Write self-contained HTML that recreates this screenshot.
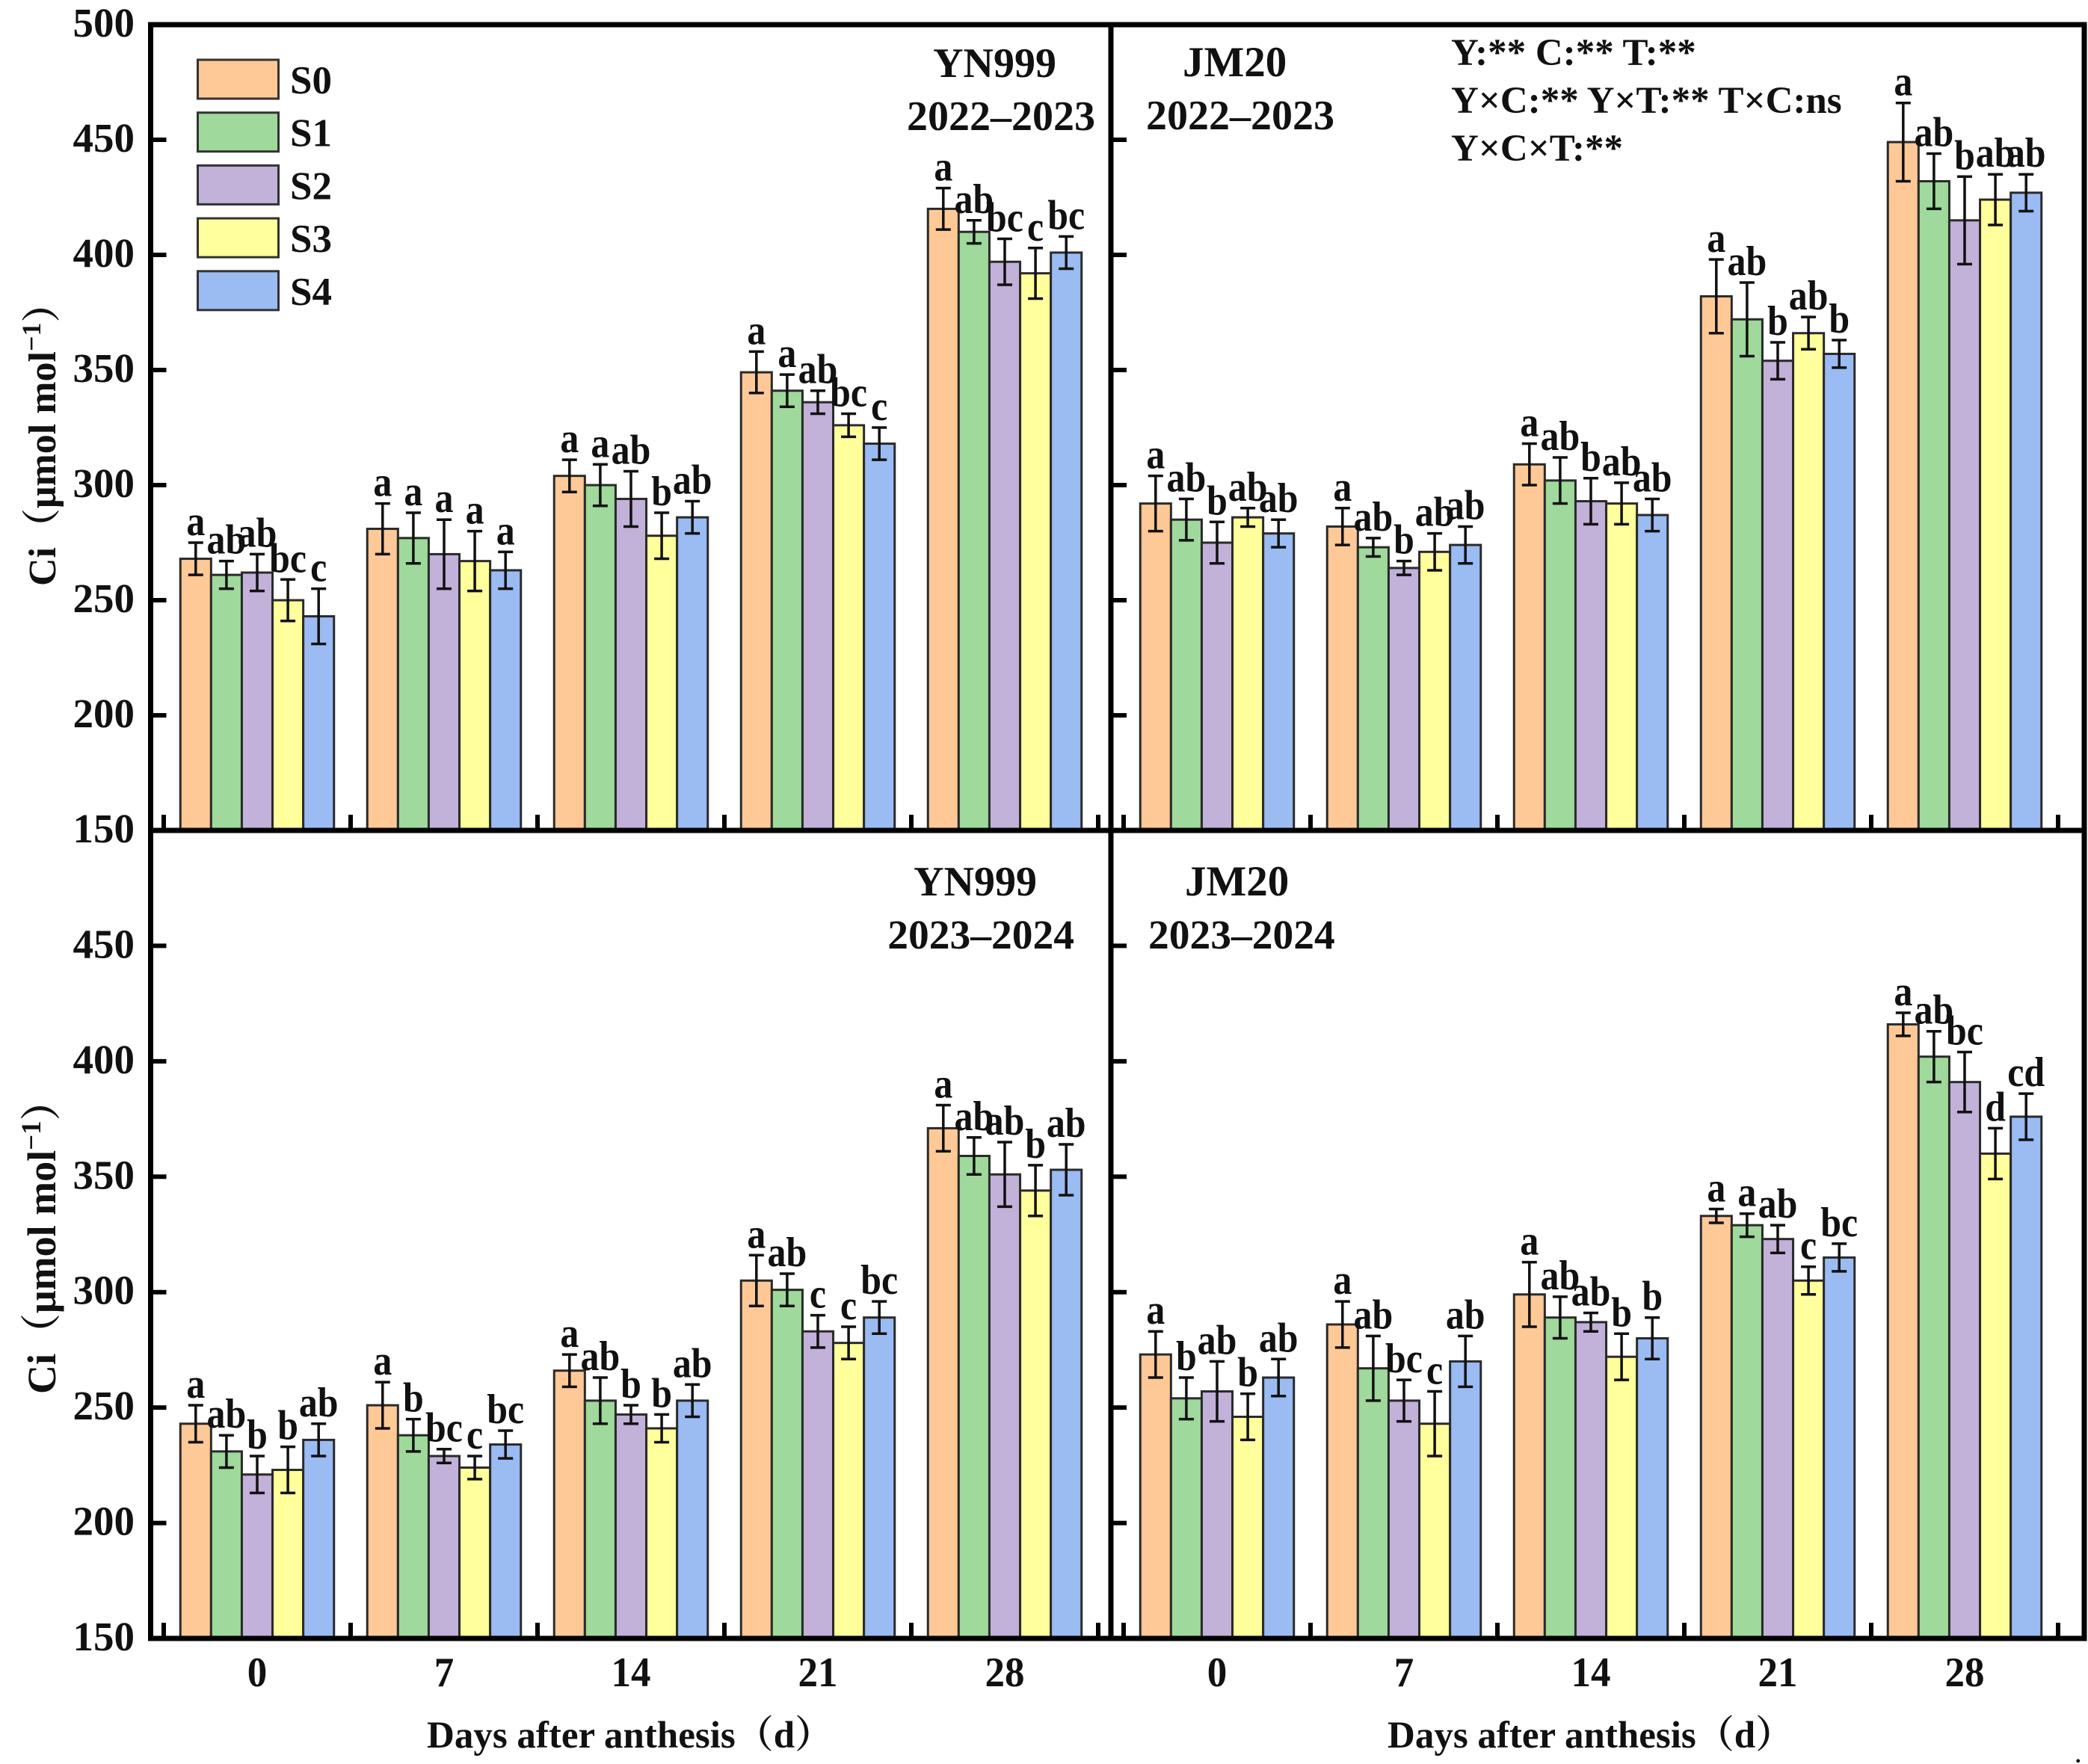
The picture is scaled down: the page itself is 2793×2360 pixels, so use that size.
<!DOCTYPE html>
<html lang="en">
<head>
<meta charset="utf-8">
<title>Ci by days after anthesis</title>
<style>
html,body{margin:0;padding:0;background:#fff;}
svg{display:block;}
text{font-family:"Liberation Serif","Noto Serif CJK SC",serif;font-weight:bold;fill:#111;}
</style>
</head>
<body>
<svg id="chart" xmlns="http://www.w3.org/2000/svg" width="2793" height="2360" viewBox="0 0 2793 2360">
  <rect x="0" y="0" width="2793" height="2360" fill="#fff"/>
  <g id="panels"></g>
  <g id="frame" fill="none" stroke="#000" stroke-width="7">
    <rect x="201.5" y="33" width="2586.5" height="2159"/>
    <line x1="1486" y1="33" x2="1486" y2="2192"/>
    <line x1="201.5" y1="1111" x2="2788" y2="1111"/>
  </g>
  <g id="yLabels"></g>
  <g id="xLabels"></g>
  <g id="legend"></g>

  <text x="1413" y="103" font-size="56" text-anchor="end">YN999</text>
  <text x="1465" y="174" font-size="56" text-anchor="end">2022–2023</text>
  <text x="1582" y="102" font-size="57">JM20</text>
  <text x="1533" y="173" font-size="56">2022–2023</text>
  <text x="1387" y="1198" font-size="56" text-anchor="end">YN999</text>
  <text x="1437" y="1269" font-size="55.5" text-anchor="end">2023–2024</text>
  <text x="1585" y="1198" font-size="57">JM20</text>
  <text x="1536" y="1269" font-size="55.5">2023–2024</text>

  <text x="1941" y="87" font-size="51">Y:** C:** T:**</text>
  <text x="1941" y="151" font-size="51">Y×C:** Y×T:** T×C:ns</text>
  <text x="1941" y="215" font-size="51">Y×C×T:**</text>

  <text transform="translate(74,784) rotate(-90)" font-size="52">Ci（μmol mol<tspan dy="-20" font-size="36">−1</tspan><tspan dy="20">）</tspan></text>
  <text transform="translate(74,1865) rotate(-90)" font-size="54">Ci（μmol mol<tspan dy="-20" font-size="37">−1</tspan><tspan dy="20">）</tspan></text>
  <text x="571" y="2338" font-size="51">Days after anthesis（d）</text>
  <text x="1856" y="2338" font-size="51">Days after anthesis（d）</text>
  <text x="2776" y="2358" font-size="30">.</text>
</svg>
<script>
// ---- chart data ----
const days = ["0", "7", "14", "21", "28"];
const seriesNames = ["S0", "S1", "S2", "S3", "S4"];
const seriesColors = ["#FFC997", "#9FD99B", "#C2B1D9", "#FFFF9B", "#9BBBF3"];
const yTickValues = [150, 200, 250, 300, 350, 400, 450, 500];
const upperTickLabels = ["500", "450", "400", "350", "300", "250", "200", "150"];
const lowerTickLabels = ["450", "400", "350", "300", "250", "200", "150"];

const yn2022Means = [
  [268, 261, 262, 250, 243],
  [281, 277, 270, 267, 263],
  [304, 300, 294, 278, 286],
  [349, 341, 336, 326, 318],
  [420, 410, 397, 392, 401]
];
const yn2022Errors = [
  [7, 6, 8, 9, 12],
  [11, 11, 15, 13, 8],
  [7, 9, 12, 10, 7],
  [9, 7, 5, 5, 7],
  [9, 5, 10, 11, 7]
];
const yn2022Letters = [
  ["a", "ab", "ab", "bc", "c"],
  ["a", "a", "a", "a", "a"],
  ["a", "a", "ab", "b", "ab"],
  ["a", "a", "ab", "bc", "c"],
  ["a", "ab", "bc", "c", "bc"]
];

const jm2022Means = [
  [292, 285, 275, 286, 279],
  [282, 273, 264, 271, 274],
  [309, 302, 293, 292, 287],
  [382, 372, 354, 366, 357],
  [449, 432, 415, 424, 427]
];
const jm2022Errors = [
  [12, 9, 9, 4, 6],
  [8, 4, 3, 8, 8],
  [9, 10, 10, 9, 7],
  [16, 16, 8, 7, 6],
  [17, 12, 19, 11, 8]
];
const jm2022Letters = [
  ["a", "ab", "b", "ab", "ab"],
  ["a", "ab", "b", "ab", "ab"],
  ["a", "ab", "b", "ab", "ab"],
  ["a", "ab", "b", "ab", "b"],
  ["a", "ab", "b", "ab", "ab"]
];

const yn2023Means = [
  [243, 231, 221, 223, 236],
  [251, 238, 229, 224, 234],
  [266, 253, 247, 241, 253],
  [305, 301, 283, 278, 289],
  [371, 359, 351, 344, 353]
];
const yn2023Errors = [
  [8, 7, 8, 10, 7],
  [10, 7, 3, 5, 6],
  [7, 10, 4, 6, 7],
  [11, 7, 7, 7, 7],
  [10, 8, 14, 11, 11]
];
const yn2023Letters = [
  ["a", "ab", "b", "b", "ab"],
  ["a", "b", "bc", "c", "bc"],
  ["a", "ab", "b", "b", "ab"],
  ["a", "ab", "c", "c", "bc"],
  ["a", "ab", "ab", "b", "ab"]
];

const jm2023Means = [
  [273, 254, 257, 246, 263],
  [286, 267, 253, 243, 270],
  [299, 289, 287, 272, 280],
  [333, 329, 323, 305, 315],
  [416, 402, 391, 360, 376]
];
const jm2023Errors = [
  [10, 9, 13, 10, 8],
  [10, 14, 9, 14, 11],
  [14, 9, 4, 10, 9],
  [3, 5, 6, 6, 6],
  [5, 11, 13, 11, 10]
];
const jm2023Letters = [
  ["a", "b", "ab", "b", "ab"],
  ["a", "ab", "bc", "c", "ab"],
  ["a", "ab", "ab", "b", "b"],
  ["a", "a", "ab", "c", "bc"],
  ["a", "ab", "bc", "d", "cd"]
];

// ---- layout ----
const NS = "http://www.w3.org/2000/svg";
const panels = [
  { id: "yn999-2022", means: yn2022Means, errors: yn2022Errors, letters: yn2022Letters, tick0: 219, axisX: 201.5, top: 33, bottom: 1111 },
  { id: "jm20-2022", means: jm2022Means, errors: jm2022Errors, letters: jm2022Letters, tick0: 1503, axisX: 1486, top: 33, bottom: 1111 },
  { id: "yn999-2023", means: yn2023Means, errors: yn2023Errors, letters: yn2023Letters, tick0: 219, axisX: 201.5, top: 1111, bottom: 2192 },
  { id: "jm20-2023", means: jm2023Means, errors: jm2023Errors, letters: jm2023Letters, tick0: 1503, axisX: 1486, top: 1111, bottom: 2192 }
];
const GROUP_STEP = 250;
const BAR_W = 41.1;
const Y_MIN = 150;
const Y_MAX = 500;

function yScale(panel, v) {
  return panel.bottom - (v - Y_MIN) / (Y_MAX - Y_MIN) * (panel.bottom - panel.top);
}
function groupCenter(panel, d) {
  return panel.tick0 + GROUP_STEP * d + GROUP_STEP / 2;
}
function barCenter(panel, d, s) {
  return groupCenter(panel, d) + (s - (seriesNames.length - 1) / 2) * BAR_W;
}
function make(parent, tag, attrs, txt) {
  const node = document.createElementNS(NS, tag);
  for (const k in attrs) node.setAttribute(k, attrs[k]);
  if (txt !== undefined) node.textContent = txt;
  parent.appendChild(node);
  return node;
}

const panelsRoot = document.getElementById("panels");
const yLabelsRoot = document.getElementById("yLabels");
const xLabelsRoot = document.getElementById("xLabels");
const legendRoot = document.getElementById("legend");

panels.forEach(function (p) {
  const g = make(panelsRoot, "g", {});
  
  

  p.means.forEach(function (row, d) {
    row.forEach(function (v, s) {
      const cx = barCenter(p, d, s);
      const y = yScale(p, v);
      const bar = make(g, "rect", { x: cx - BAR_W / 2, y: y, width: BAR_W, height: p.bottom - y, fill: seriesColors[s], stroke: "#2a2a2a", "stroke-width": 3 });
      
      
    });
    row.forEach(function (v, s) {
      const cx = barCenter(p, d, s);
      const e = p.errors[d][s];
      const yHi = yScale(p, v + e);
      const yLo = yScale(p, v - e);
      const err = make(g, "path", { d: "M" + (cx - 10) + " " + yHi + "H" + (cx + 10) + "M" + cx + " " + yHi + "V" + yLo + "M" + (cx - 10) + " " + yLo + "H" + (cx + 10), fill: "none", stroke: "#111", "stroke-width": 3.5 });
      
      
      const lab = make(g, "text", { transform: "translate(" + cx + "," + (yHi - 10) + ") scale(0.96,1.08)", "font-size": 52, "text-anchor": "middle" }, p.letters[d][s]);
      
      
    });
  });

  yTickValues.forEach(function (t) {
    if (t === Y_MIN || t === Y_MAX) return;
    const yy = yScale(p, t);
    const tick = make(g, "line", { x1: p.axisX, y1: yy, x2: p.axisX + 21, y2: yy, stroke: "#000", "stroke-width": 6 });
    
    
  });

  for (let i = 0; i <= days.length; i++) {
    const xx = p.tick0 + GROUP_STEP * i;
    const tick = make(g, "line", { x1: xx, y1: p.bottom, x2: xx, y2: p.bottom - 21, stroke: "#000", "stroke-width": 6 });
    
    
  }
});

upperTickLabels.forEach(function (label) {
  const t = make(yLabelsRoot, "text", { x: 180, y: yScale(panels[0], Number(label)) + 16, "font-size": 55, "text-anchor": "end" }, label);
  
  
});
lowerTickLabels.forEach(function (label) {
  const t = make(yLabelsRoot, "text", { x: 180, y: yScale(panels[2], Number(label)) + 16, "font-size": 55, "text-anchor": "end" }, label);
  
  
});

[panels[2], panels[3]].forEach(function (p) {
  days.forEach(function (day, d) {
    const t = make(xLabelsRoot, "text", { transform: "translate(" + groupCenter(p, d) + ",2256) scale(1,1.06)", "font-size": 53, "text-anchor": "middle" }, day);
    
    
  });
});

seriesNames.forEach(function (name, s) {
  const top = 80 + s * 70.7;
  const swatch = make(legendRoot, "rect", { x: 264.5, y: top, width: 108, height: 52, fill: seriesColors[s], stroke: "#333", "stroke-width": 3 });
  
  
  const label = make(legendRoot, "text", { x: 388, y: top + 45, "font-size": 53 }, name);
  
  
});
</script>
</body>
</html>
